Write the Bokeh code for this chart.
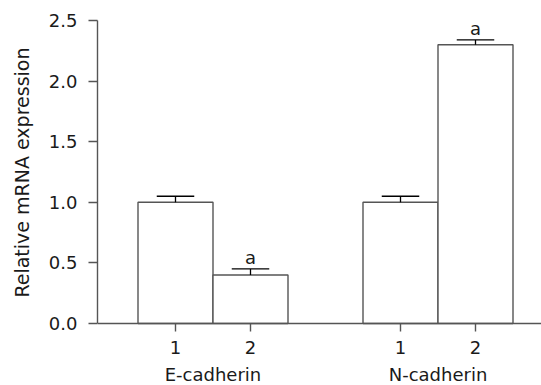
from bokeh.plotting import figure
from bokeh.models import LinearAxis, FixedTicker, Range1d, NumeralTickFormatter, Title
from bokeh.embed import file_html
from bokeh.resources import INLINE
from bokeh.core.properties import value

# ---- data ----
groups = ["E-cadherin", "N-cadherin"]
conditions = ["1", "2"]
bar_x = [1, 2, 4, 5]
bar_labels = ["1", "2", "1", "2"]
group_x = [1.5, 4.5]
expression = [1.00, 0.40, 1.00, 2.30]
errors = [0.05, 0.05, 0.05, 0.04]
sig_x = [2, 5]
sig_top = [0.40 + 0.05, 2.30 + 0.04]
sig_text = ["a", "a"]
y_ticks = [0.0, 0.5, 1.0, 1.5, 2.0, 2.5]
y_title = "Relative mRNA expression"

FONT = "DejaVu Sans"
TXT = "#1a1a1a"
LINE = "#555555"

X0, X1 = -0.04, 5.88
Y0, Y1 = -0.5116, 2.665

p = figure(width=541, height=385, output_backend="svg", toolbar_location=None,
           x_axis_type=None, y_axis_type=None,
           x_range=Range1d(X0, X1), y_range=Range1d(Y0, Y1),
           min_border_left=97, min_border_right=0, min_border_top=0, min_border_bottom=0)
p.outline_line_color = None
p.xgrid.visible = False
p.ygrid.visible = False
p.background_fill_color = "white"
p.border_fill_color = "white"

# bars
p.vbar(x=bar_x, top=expression, bottom=0, width=1.0, fill_color="white",
       line_color=LINE, line_width=1.4)

# error bars (upper only)
up = [t + e for t, e in zip(expression, errors)]
p.segment(x0=bar_x, y0=expression, x1=bar_x, y1=up, line_color="black", line_width=1.3)
p.segment(x0=[x - 0.25 for x in bar_x], y0=up, x1=[x + 0.25 for x in bar_x], y1=up,
          line_color="black", line_width=1.3)

# significance labels
p.text(x=sig_x, y=[v + 0.095 for v in sig_top], text=sig_text, text_align="center",
       text_baseline="alphabetic", text_font=value(FONT), text_font_size="18px",
       text_color=TXT)

# y axis
yax = LinearAxis(ticker=FixedTicker(ticks=y_ticks), formatter=NumeralTickFormatter(format="0.0"),
                 bounds=(0, 2.5))
yax.major_tick_out = 9
yax.major_tick_in = 0
yax.minor_tick_out = 0
yax.minor_tick_in = 0
yax.major_label_standoff = 11
yax.major_label_text_font = FONT
yax.major_label_text_font_size = "18px"
yax.major_label_text_color = TXT
yax.axis_line_color = LINE
yax.axis_line_width = 1.4
yax.major_tick_line_color = LINE
yax.major_tick_line_width = 1.4
p.add_layout(yax, "left")

# y axis title
p.add_layout(Title(text=y_title, align="right", offset=47, standoff=21,
                   vertical_align="top",
                   text_font=FONT, text_font_size="19px", text_font_style="normal",
                   text_color=TXT), "left")

# x axis with condition labels
xax = LinearAxis(ticker=FixedTicker(ticks=bar_x), fixed_location=0,
                 major_label_overrides={x: l for x, l in zip(bar_x, bar_labels)})
xax.major_tick_out = 8
xax.major_tick_in = 0
xax.minor_tick_out = 0
xax.minor_tick_in = 0
xax.major_label_standoff = 10
xax.major_label_text_font = FONT
xax.major_label_text_font_size = "18px"
xax.major_label_text_color = TXT
xax.axis_line_color = LINE
xax.axis_line_width = 1.4
xax.major_tick_line_color = LINE
xax.major_tick_line_width = 1.4
p.add_layout(xax, "below")

# group labels
gax = LinearAxis(ticker=FixedTicker(ticks=group_x), fixed_location=0,
                 major_label_overrides={x: g for x, g in zip(group_x, groups)})
gax.major_tick_out = 0
gax.major_tick_in = 0
gax.minor_tick_out = 0
gax.minor_tick_in = 0
gax.major_label_standoff = 41
gax.major_label_text_font = FONT
gax.major_label_text_font_size = "18px"
gax.major_label_text_color = TXT
gax.axis_line_color = None
gax.major_tick_line_color = None
p.add_layout(gax, "below")

open("out.html", "w").write(file_html(p, INLINE))
